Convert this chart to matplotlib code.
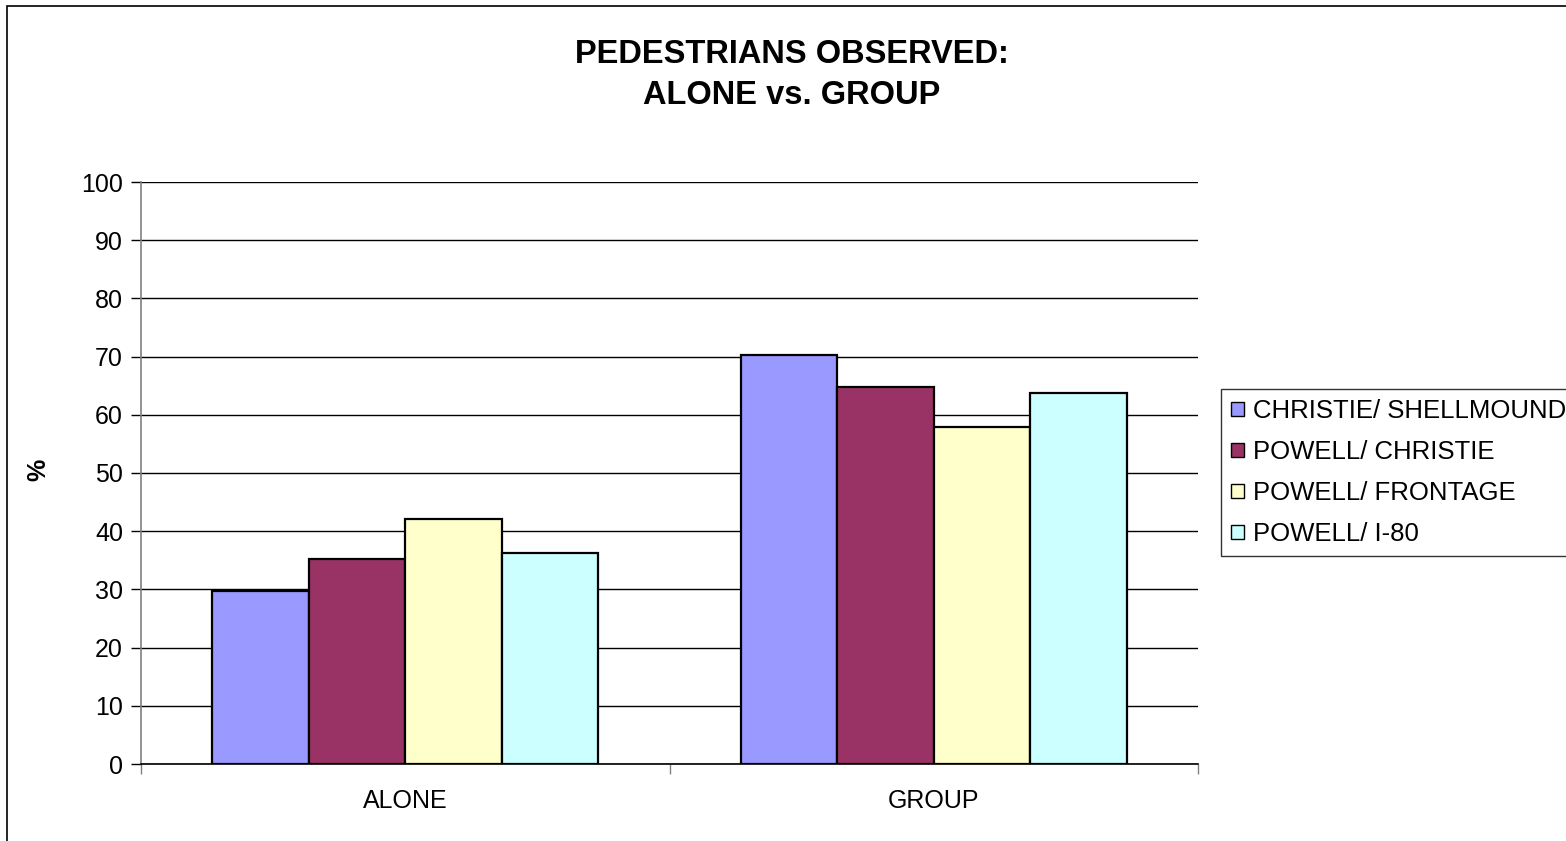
import matplotlib
matplotlib.use("Agg")
import matplotlib.pyplot as plt
from matplotlib.patches import Rectangle
import numpy as np

categories = ["ALONE", "GROUP"]
series = ["CHRISTIE/ SHELLMOUND", "POWELL/ CHRISTIE", "POWELL/ FRONTAGE", "POWELL/ I-80"]
christie_shellmound = [29.7, 70.3]
powell_christie = [35.2, 64.8]
powell_frontage = [42.1, 57.9]
powell_i80 = [36.2, 63.8]
colors = ["#9999FF", "#993366", "#FFFFCC", "#CCFFFF"]
yticks = list(range(0, 101, 10))

plt.rcParams['font.family'] = ['Liberation Sans', 'DejaVu Sans']

W, H = 1566, 841
fig = plt.figure(figsize=(W / 100, H / 100), dpi=100)
fig.patches.append(Rectangle((7 / W, -0.01), 1.02, 1 - 6 / H + 0.01, transform=fig.transFigure,
                             fill=False, edgecolor="black", linewidth=1.2, zorder=0))

ax = fig.add_axes([141 / W, 1 - 764 / H, (1198 - 141) / W, (764 - 182) / H])
values = [christie_shellmound, powell_christie, powell_frontage, powell_i80]
n = len(series)
group_w = 0.73
bw = group_w / n
x = np.arange(len(categories)) + 0.5
for i, (name, vals, c) in enumerate(zip(series, values, colors)):
    ax.bar(x + (i - (n - 1) / 2) * bw, vals, width=bw, color=c, edgecolor="black",
           linewidth=1.6, label=name, zorder=3)

ax.set_xlim(0, len(categories))
ax.set_ylim(0, 100)
ax.set_yticks(yticks)
ax.set_yticklabels([str(t) for t in yticks], fontsize=18)
ax.set_xticks(x)
ax.set_xticklabels(categories, fontsize=18)
ax.set_xticks(np.arange(len(categories) + 1), minor=True)
ax.tick_params(axis="x", which="major", length=0, pad=18)
ax.tick_params(axis="x", which="minor", length=7, width=1, color="#808080")
ax.tick_params(axis="y", length=7, width=1, color="black", pad=6)
ax.yaxis.grid(True, color="black", linewidth=1.0, zorder=0)
ax.set_axisbelow(True)
for s in ["top", "right"]:
    ax.spines[s].set_visible(False)
ax.spines["left"].set_color("#808080")
ax.spines["left"].set_linewidth(1.2)
ax.spines["bottom"].set_color("black")
ax.spines["bottom"].set_linewidth(1.2)

ax.set_ylabel("%", fontsize=18, fontweight="bold")
ax.yaxis.set_label_coords(50 / W, 1 - 470 / H, transform=fig.transFigure)

fig.text(792 / W, 1 - 75 / H, "PEDESTRIANS OBSERVED:\nALONE vs. GROUP", ha="center", va="center",
         fontsize=23.5, fontweight="bold", linespacing=1.45)

leg = ax.legend(loc="upper left", bbox_to_anchor=(1221 / W, 1 - 389 / H), bbox_transform=fig.transFigure,
                borderaxespad=0, fontsize=18.5, frameon=True, fancybox=False, edgecolor="black",
                handlelength=0.5, handleheight=0.5, handletextpad=0.35, labelspacing=0.66,
                borderpad=0.4)
leg.get_frame().set_linewidth(1.0)
for h in leg.legend_handles:
    h.set_linewidth(1.0)

fig.savefig("out.png", dpi=100)
